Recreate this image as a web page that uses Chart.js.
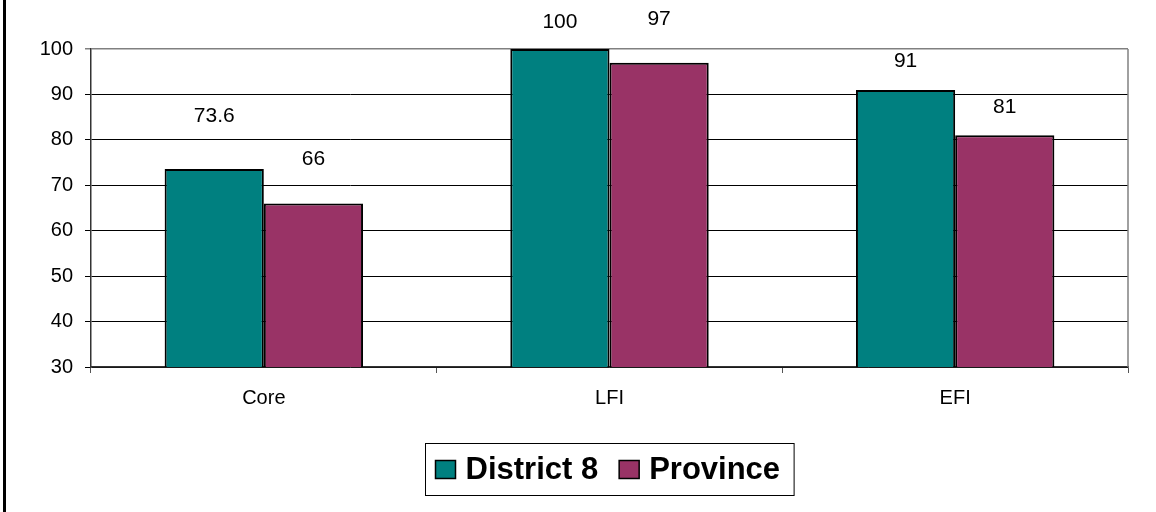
<!DOCTYPE html>
<html>
<head>
<meta charset="utf-8">
<script src="https://cdn.jsdelivr.net/npm/chart.js@4.4.1/dist/chart.umd.min.js"></script>
<style>
  html, body { margin: 0; padding: 0; background: #fff; }
  #wrap { position: relative; width: 1156px; height: 512px; }
</style>
</head>
<body>
<div id="wrap"><canvas id="chart"></canvas></div>
<script>
// ── Дані ──────────────────────────────────────────────
const categories   = ['Core', 'LFI', 'EFI'];
const seriesNames  = ['District 8', 'Province'];
const district8    = [73.6, 100, 91];
const province     = [66, 97, 81];
const yTicks       = [30, 40, 50, 60, 70, 80, 90, 100];

const TEAL   = '#008080';
const MAROON = '#993366';
const FONT   = "Arial, 'Liberation Sans', sans-serif";

// відступ підписів над стовпцями (px), як на оригіналі
const labelLift = [[53, 44], [27, 43], [29, 28]];

/* ── Підписи значень, рамка, легенда ── */
const decorPlugin = {
    id: 'decor',
    afterDatasetsDraw(chart) {
        const ctx = chart.ctx;
        ctx.save();
        ctx.font = '21px ' + FONT;
        ctx.fillStyle = '#000';
        ctx.textAlign = 'center';
        ctx.textBaseline = 'middle';
        chart.data.datasets.forEach((ds, di) => {
            chart.getDatasetMeta(di).data.forEach((bar, i) => {
                ctx.fillText(String(ds.data[i]), bar.x, bar.y - labelLift[i][di]);
            });
        });
        ctx.restore();
    },
    afterDraw(chart) {
        const ctx = chart.ctx;
        const a = chart.chartArea;
        ctx.save();

        // права межа області графіка
        ctx.strokeStyle = '#808080';
        ctx.lineWidth = 1.5;
        ctx.beginPath();
        ctx.moveTo(a.right, a.top);
        ctx.lineTo(a.right, a.bottom);
        ctx.stroke();

        // ліва рамка зображення
        ctx.fillStyle = '#000';
        ctx.fillRect(3, 0, 3, 512);

        // легенда
        ctx.font = 'bold 31px ' + FONT;
        ctx.textBaseline = 'middle';
        const sq = 20, gapIn = 10, gapOut = 21, padL = 10, padR = 14;
        const widths = chart.data.datasets.map(d => ctx.measureText(d.label).width);
        let total = padL + padR;
        widths.forEach((w, i) => { total += sq + gapIn + w + (i ? gapOut : 0); });
        const cx = (a.left + a.right) / 2;
        const boxL = Math.round(cx - total / 2) + 0.5;
        const boxT = 443.5, boxH = 52;
        ctx.strokeStyle = '#000';
        ctx.lineWidth = 1;
        ctx.fillStyle = '#fff';
        ctx.fillRect(boxL, boxT, total, boxH);
        ctx.strokeRect(boxL, boxT, total, boxH);

        let x = boxL + padL;
        const cy = boxT + boxH / 2;
        chart.data.datasets.forEach((d, i) => {
            if (i) x += gapOut;
            ctx.fillStyle = d.backgroundColor;
            ctx.fillRect(x, cy - 9, sq, 18);
            ctx.strokeStyle = '#000';
            ctx.lineWidth = 1.5;
            ctx.strokeRect(x, cy - 9, sq, 18);
            x += sq + gapIn;
            ctx.fillStyle = '#000';
            ctx.textAlign = 'left';
            ctx.fillText(d.label, x, cy + 1);
            x += widths[i];
        });
        ctx.restore();
    }
};

new Chart(document.getElementById('chart'), {
    type: 'bar',
    data: {
        labels: categories,
        datasets: [
            {
                label: seriesNames[0],
                data: district8,
                backgroundColor: TEAL,
                borderColor: '#000',
                borderWidth: 2,
                borderSkipped: false
            },
            {
                label: seriesNames[1],
                data: province,
                backgroundColor: MAROON,
                borderColor: '#000',
                borderWidth: 2,
                borderSkipped: false
            }
        ]
    },
    options: {
        responsive: true,
        maintainAspectRatio: false,
        animation: false,
        devicePixelRatio: 1,
        layout: { padding: { top: 49, right: 28, left: 0, bottom: 0 } },
        datasets: { bar: { categoryPercentage: 0.574, barPercentage: 1 } },
        plugins: {
            legend: { display: false },
            tooltip: { enabled: false }
        },
        scales: {
            x: {
                afterFit: s => { s.height = 145; },
                grid: {
                    drawOnChartArea: false,
                    drawTicks: true,
                    tickLength: 6,
                    color: '#555',
                    offset: true
                },
                border: { color: '#333', width: 1.5 },
                ticks: {
                    color: '#000',
                    padding: 13,
                    font: { family: FONT, size: 20 }
                }
            },
            y: {
                min: yTicks[0],
                max: yTicks[yTicks.length - 1],
                afterFit: s => { s.width = 91; },
                afterBuildTicks: s => { s.ticks = yTicks.map(v => ({ value: v })); },
                grid: {
                    color: c => (c.tick && c.tick.value === 100) ? '#808080' : '#000',
                    lineWidth: c => (c.tick && c.tick.value === 100) ? 1.5 : 1,
                    tickLength: 6
                },
                border: { color: '#333', width: 1.5 },
                ticks: {
                    color: '#000',
                    padding: 12,
                    font: { family: FONT, size: 20 }
                }
            }
        }
    },
    plugins: [decorPlugin]
});
</script>
</body>
</html>
